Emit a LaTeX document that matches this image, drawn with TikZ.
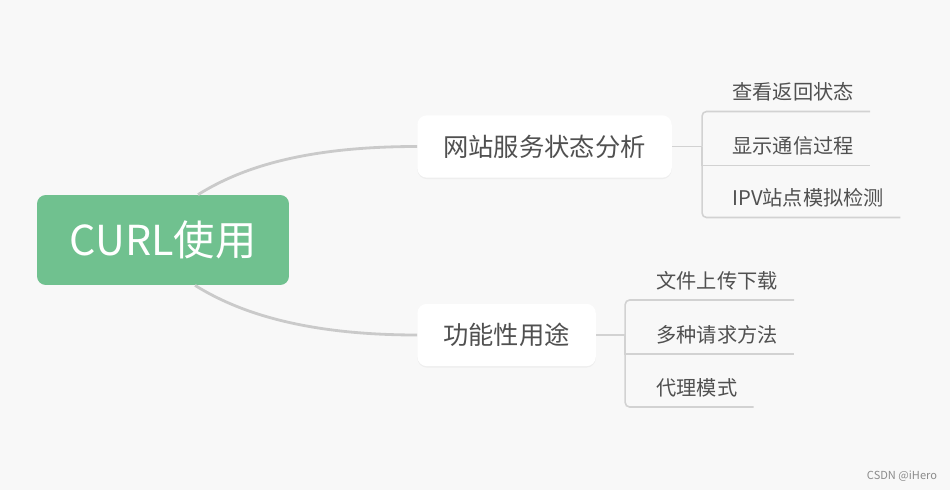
\documentclass[tikz,border=0pt]{standalone}
\usepackage{fontspec}
\setmainfont{Noto Sans CJK SC}
\usepackage{tikz}
\usetikzlibrary{shadows}
\usetikzlibrary{calc}
\definecolor{bggray}{HTML}{F8F8F8}
\definecolor{rootgreen}{HTML}{70C18F}
\definecolor{linegray}{HTML}{CACACA}
\definecolor{textgray}{HTML}{505050}
\tikzstyle{rootnode}=[rectangle,rounded corners=5pt,fill=rootgreen,text=white,minimum width=5.04cm,minimum height=1.8cm,inner sep=0pt,font=\fontsize{23.5pt}{26pt}\selectfont]
\tikzstyle{branchnode}=[rectangle,rounded corners=5.5pt,fill=white,text=textgray,anchor=west,minimum height=1.25cm,inner xsep=0.52cm,inner ysep=0pt,font=\fontsize{14.4pt}{17pt}\selectfont,drop shadow={opacity=0.08,shadow xshift=0pt,shadow yshift=-0.8pt}]
\tikzstyle{leaf}=[anchor=south west,text=textgray,inner xsep=0.32cm,inner ysep=0.145cm,text height=0.32cm,text depth=0.08cm,font=\fontsize{11.5pt}{14pt}\selectfont]
\tikzstyle{mainedge} = [draw,linegray,line width=1.6pt]
\tikzstyle{leafedge} = [draw,linegray!85,line width=0.9pt]

\begin{document}
\begin{tikzpicture}[x=0.02cm,y=-0.02cm]

    \fill[bggray] (0,0) rectangle (950,490);
    \useasboundingbox (0,0) rectangle (950,490);

    \node[rootnode] (root) at (163,240) {CURL使用};
    \node[branchnode] (b1) at (417,146.5) {网站服务状态分析};
    \node[branchnode] (b2) at (417,335) {功能性用途};

    % Connect root with branches
    \path[mainedge] ($(root.north)+(35,0)$) .. controls +(40,-25) and +(-117,0) .. (b1.west);
    \path[mainedge] ($(root.south)+(32,0)$) .. controls +(40,25) and +(-117,0) .. (b2.west);

    \coordinate (j1) at ($(b1.east)+(30,0)$);
    \coordinate (j2) at ($(b2.east)+(29,0)$);

    \foreach \name/ \dy/ \txt in {{l1/-35/查看返回状态}, {l2/19/显示通信过程}, {l3/71/IPV站点模拟检测}}
        \node[leaf] (\name) at ($(j1)+(14,\dy)$) {\txt};
    \foreach \name/ \dy/ \txt in {{m1/-35/文件上传下载}, {m2/19/多种请求方法}, {m3/72/代理模式}}
        \node[leaf] (\name) at ($(j2)+(15,\dy)$) {\txt};

    % Connect branches with leaves
    \foreach \b/ \j in {b1/j1, b2/j2}
        \path[leafedge] (\b.east) -- (\j);
    \foreach \j/ \dest in {j1/l1, j1/l3, j2/m1, j2/m3}
        \path[leafedge,rounded corners=2.5pt] (\j) |- (\dest.south east);
    \foreach \j/ \dest in {j1/l2, j2/m2}
        \path[leafedge] (\j) |- (\dest.south east);

    \node[text=black!45,font=\fontsize{6.3pt}{8pt}\selectfont] (mark) at (902,476) {CSDN @iHero};

\end{tikzpicture}
\end{document}
